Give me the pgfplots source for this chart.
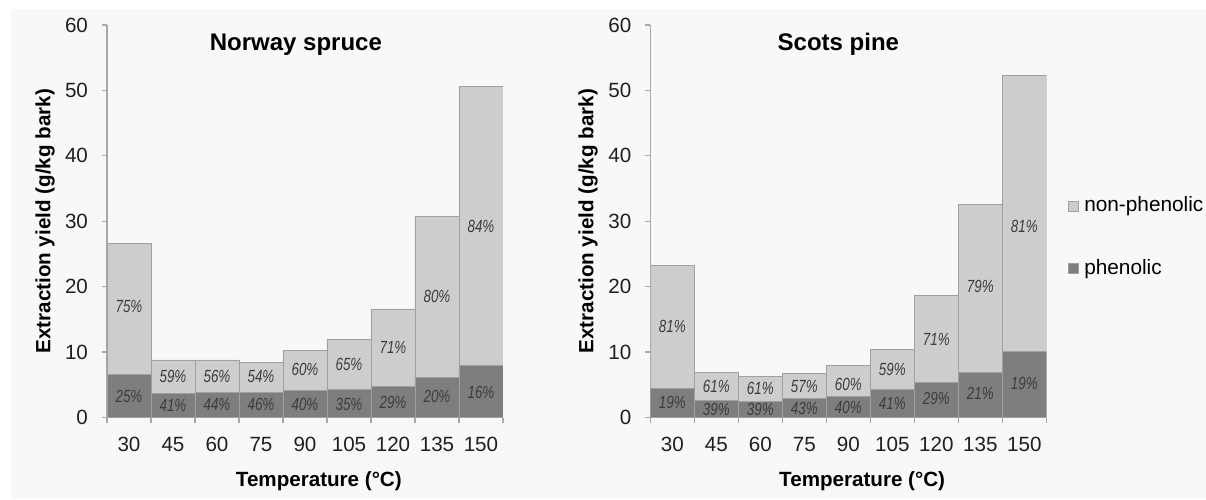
\documentclass[border=0pt]{standalone}
\usepackage{fontspec}
\setmainfont{Liberation Sans}
\usepackage{graphicx}
\usepackage{pgfplots}
\usepackage{pgfplotstable}
\pgfplotsset{compat=1.18}
\definecolor{lightbar}{HTML}{CDCDCD}
\definecolor{darkbar}{HTML}{7E7E7E}
\definecolor{baredge}{HTML}{A0A0A0}
\definecolor{axisgray}{HTML}{A8A8A8}
\definecolor{pcttext}{HTML}{3C3C3C}
\definecolor{bgc}{HTML}{F8F8F8}

% x = category index (30,45,...,150 degC), tot = total yield, phen = phenolic part
\pgfplotstableread{
x tot phen
0 26.6 6.65
1 8.8 3.65
2 8.8 3.85
3 8.4 3.85
4 10.2 4.1
5 12.0 4.3
6 16.6 4.8
7 30.8 6.1
8 50.6 8.0
}\spruce
\pgfplotstableread{
x tot phen
0 23.2 4.4
1 6.85 2.65
2 6.25 2.4
3 6.7 2.85
4 7.9 3.15
5 10.35 4.25
6 18.6 5.4
7 32.6 6.9
8 52.3 10.05
}\pine

\pgfplotsset{
  myaxis/.style={
    scale only axis, width=198pt, height=196.25pt,
    xmin=-0.5, xmax=8.5, ymin=0, ymax=60,
    axis x line*=bottom, axis y line*=left,
    axis line style={draw=axisgray, line width=0.65pt},
    xtick={0,...,8}, xticklabels={30,45,60,75,90,105,120,135,150},
    minor xtick={-0.5,0.5,...,8.5},
    ytick={0,10,...,60},
    tick align=outside,
    major tick length=2.5pt, minor tick length=2.5pt,
    every tick/.style={draw=axisgray, line width=0.65pt},
    major x tick style={draw=none},
    /pgf/number format/assume math mode=true,
    ticklabel style={font=\fontsize{10.3}{12}\selectfont, text=black!88},
    xticklabel style={yshift=-4pt},
    yticklabel style={xshift=-3.5pt},
    title style={font=\fontsize{12}{14}\selectfont\bfseries, anchor=base},
    xlabel style={font=\fontsize{10.3}{12}\selectfont\bfseries, anchor=base,
      at={(axis description cs:0.535,-0.1763)}},
    ylabel style={font=\fontsize{10.3}{12}\selectfont\bfseries, anchor=base},
    xlabel={Temperature (°C)},
    ylabel={Extraction yield (g/kg bark)},
    legend image code/.code={\draw[#1] (0pt,-2.5pt) rectangle (5pt,2.5pt);},
  },
  barlight/.style={ybar, bar width=1, bar shift=0, fill=lightbar, draw=baredge, line width=0.4pt},
  bardark/.style={ybar, bar width=1, bar shift=0, fill=darkbar, draw=baredge, line width=0.4pt},
  pct/.style={draw=none, mark=none, forget plot, point meta=explicit symbolic,
    nodes near coords={\scalebox{0.76}[1]{\pgfplotspointmeta\%}},
    every node near coord/.style={anchor=center, inner sep=0pt,
      font=\fontsize{8.8}{10}\selectfont\itshape, text=pcttext}},
}

\begin{document}
\begin{tikzpicture}
\useasboundingbox (0,0) rectangle (603pt,249.5pt);
\fill[bgc] (5.5pt,0pt) rectangle (603pt,245pt);

\begin{axis}[myaxis, at={(53.5pt,40.75pt)}, anchor=south west,
  title={Norway spruce}, title style={at={(axis description cs:0.477,0.904)}},
  ylabel style={at={(axis description cs:-0.143,0.5)}}]
\addplot[barlight] table[x=x, y=tot] {\spruce};
\addplot[bardark] table[x=x, y=phen] {\spruce};
\addplot[pct] coordinates {
 (0,16.9) [75] (1,6.25) [59] (2,6.3) [56] (3,6.2) [54] (4,7.3) [60]
 (5,8.1) [65] (6,10.7) [71] (7,18.5) [80] (8,29.2) [84]};
\addplot[pct] coordinates {
 (0,3.2) [25] (1,1.9) [41] (2,1.95) [44] (3,1.95) [46] (4,1.95) [40]
 (5,1.95) [35] (6,2.35) [29] (7,3.2) [20] (8,3.8) [16]};
\end{axis}

\begin{axis}[myaxis, at={(325.15pt,40.75pt)}, anchor=south west,
  title={Scots pine}, title style={at={(axis description cs:0.475,0.904)}},
  ylabel style={at={(axis description cs:-0.144,0.5)}},
  legend style={at={(axis description cs:1.056,0.562)}, anchor=north west,
    draw=none, fill=none, inner sep=0pt, outer sep=0pt, row sep=22.4pt,
    font=\fontsize{10.4}{12}\selectfont,
    nodes={inner xsep=2.5pt, inner ysep=0pt}},
  legend cell align=left]
\addplot[barlight] table[x=x, y=tot] {\pine};
\addlegendentry{non-phenolic}
\addplot[bardark] table[x=x, y=phen] {\pine};
\addlegendentry{phenolic}
\addplot[pct] coordinates {
 (0,13.9) [81] (1,4.7) [61] (2,4.5) [61] (3,4.8) [57] (4,5.1) [60]
 (5,7.4) [59] (6,12.0) [71] (7,20.0) [79] (8,29.2) [81]};
\addplot[pct] coordinates {
 (0,2.3) [19] (1,1.3) [39] (2,1.3) [39] (3,1.45) [43] (4,1.6) [40]
 (5,2.2) [41] (6,2.95) [29] (7,3.7) [21] (8,5.25) [19]};
\end{axis}
\end{tikzpicture}
\end{document}
